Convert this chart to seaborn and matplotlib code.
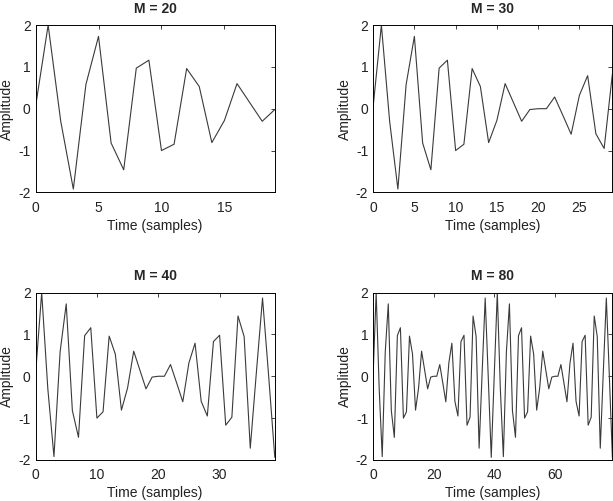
import numpy as np
import pandas as pd
import matplotlib
matplotlib.use("Agg")
import matplotlib.pyplot as plt
from matplotlib.ticker import MultipleLocator
import seaborn as sns

# Signal samples (the M = 80 panel shows all of them,
# the other panels show the first M samples)
amplitude = [
    0.05, 2.0, -0.3, -1.92, 0.58, 1.73, -0.82, -1.46, 0.97, 1.16,
    -1.0, -0.85, 0.96, 0.53, -0.81, -0.28, 0.6, 0.15, -0.3, -0.02,
    0.0, 0.0, 0.28, -0.16, -0.61, 0.32, 0.79, -0.6, -0.95, 0.83,
    0.98, -1.17, -0.98, 1.44, 0.95, -1.72, 0.1, 1.87, 0.0, -1.94,
    0.05, 2.0, -0.3, -1.92, 0.58, 1.73, -0.82, -1.46, 0.97, 1.16,
    -1.0, -0.85, 0.96, 0.53, -0.81, -0.28, 0.6, 0.15, -0.3, -0.02,
    0.0, 0.0, 0.28, -0.16, -0.61, 0.32, 0.79, -0.6, -0.95, 0.83,
    0.98, -1.17, -0.98, 1.44, 0.95, -1.72, 0.1, 1.87, 0.0, -1.94,
]
window_lengths = [20, 30, 40, 80]
tick_steps = [5, 5, 10, 20]
y_ticks = [-2, -1, 0, 1, 2]

sns.set_style("white")
plt.rcParams["font.family"] = ["Liberation Sans", "DejaVu Sans"]
plt.rcParams["axes.unicode_minus"] = False
plt.rcParams["font.size"] = 10

fig, axes = plt.subplots(2, 2, figsize=(6.13, 5.01), dpi=100)
plt.subplots_adjust(left=0.058, right=0.999, bottom=0.082, top=0.950,
                    wspace=0.411, hspace=0.599)

for ax, M, step in zip(axes.flat, window_lengths, tick_steps):
    df = pd.DataFrame({"n": np.arange(M), "x": amplitude[:M]})
    sns.lineplot(data=df, x="n", y="x", ax=ax, color="#3a3a3a", linewidth=0.8)
    ax.set_xlim(0, M - 1)
    ax.set_ylim(-2, 2)
    ax.xaxis.set_major_locator(MultipleLocator(step))
    ax.set_yticks(y_ticks)
    ax.tick_params(direction="in", top=True, right=True, length=3, width=0.6,
                   labelsize=10, colors="#222222")
    ax.tick_params(axis="x", pad=6)
    ax.tick_params(axis="y", pad=3.5)
    for s in ax.spines.values():
        s.set_color("black")
        s.set_linewidth(0.7)
    ax.set_title(f"M = {M}", fontsize=10, fontweight="bold", pad=9)
    ax.set_xlabel("Time (samples)", fontsize=10, labelpad=3, color="#222222")
    ax.set_ylabel("Amplitude", fontsize=10, labelpad=3, color="#222222")

plt.savefig("out.png", dpi=100)
plt.close()
